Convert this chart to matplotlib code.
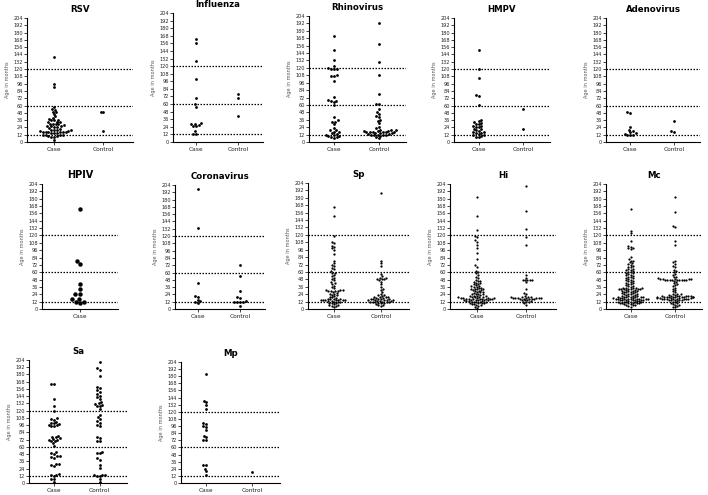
import matplotlib
matplotlib.use('Agg')
import matplotlib.pyplot as plt
import pandas as pd
import seaborn as sns

# ages in months
rsv_case = [140, 96, 91, 58, 55, 53, 50, 49, 46, 42, 40, 38, 37, 36, 36, 33, 33, 33, 30, 30, 29, 29, 28,
            26, 26, 26, 25, 25, 23, 22, 20, 20, 19, 19, 18, 18, 17, 17, 17, 16, 16, 16, 15, 15, 14,
            12, 12, 11, 11, 10, 10, 9, 9, 4]
rsv_control = [50, 50, 18]

flu_case = [163, 157, 128, 99, 70, 60, 56, 30, 29, 28, 27, 25, 25, 17, 13, 13]
flu_control = [76, 70, 41]

rhino_case = [172, 149, 133, 123, 120, 119, 119, 118, 108, 107, 107, 98, 73, 68, 67, 66, 65, 60, 40, 35,
              33, 32, 29, 22, 20, 19, 17, 16, 15, 13, 12, 11, 10, 9, 8, 8, 7]
rhino_control = [193, 159, 130, 108, 77, 62, 61, 54, 49, 46, 42, 40, 36, 34, 30, 24, 22, 20, 19, 19, 18,
                 18, 18, 17, 17, 17, 16, 16, 16, 15, 15, 14, 13, 13, 12, 12, 12, 11, 11, 10, 8, 6]

hmpv_case = [152, 120, 106, 78, 75, 61, 36, 34, 33, 31, 30, 29, 27, 26, 25, 24, 22, 21, 19, 18, 17, 16,
             15, 14, 13, 12, 11, 10, 9, 8]
hmpv_control = [55, 21]

adeno_case = [49, 47, 25, 20, 18, 16, 14, 13, 12, 11, 11]
adeno_control = [34, 18, 16]

hpiv_case = [164, 79, 73, 41, 33, 24, 24, 16, 16, 12, 11, 9]

corona_case = [197, 133, 43, 22, 20, 15, 13, 12, 10]
corona_control = [72, 54, 29, 20, 18, 13, 12, 12, 12, 11, 5]

sp_case = [165, 151, 118, 109, 107, 102, 101, 98, 96, 89, 78, 74, 72, 69, 66, 64, 61, 59, 58, 55, 53,
           51, 48, 47, 44, 42, 41, 38, 36, 34, 31, 30, 30, 29, 29, 29, 29, 28, 26, 25, 24, 23, 22, 21,
           20, 19, 18, 17, 16, 16, 16, 15, 15, 15, 15, 14, 14, 14, 13, 13, 12, 12, 11, 10, 10, 9, 8,
           7, 6, 5, 5, 4]
sp_control = [188, 78, 74, 70, 56, 53, 51, 50, 49, 49, 48, 47, 44, 40, 36, 32, 30, 27, 24, 23, 22, 21,
              20, 20, 19, 19, 18, 18, 17, 17, 16, 16, 16, 15, 15, 15, 14, 14, 13, 13, 13, 12, 12, 12,
              12, 11, 11, 10, 10, 9, 8, 7, 6, 5]

hi_case = [183, 151, 129, 119, 118, 112, 110, 104, 100, 91, 81, 71, 69, 62, 61, 58, 55, 52, 50, 48, 46,
           45, 44, 43, 42, 41, 40, 39, 38, 37, 36, 36, 35, 34, 33, 33, 33, 32, 31, 31, 30, 29, 28, 28,
           27, 26, 25, 25, 24, 24, 23, 22, 22, 21, 21, 20, 20, 19, 19, 19, 18, 18, 18, 18, 18, 17, 17,
           17, 17, 16, 16, 16, 16, 15, 15, 15, 14, 14, 14, 13, 13, 13, 12, 12, 12, 11, 11, 10, 10, 9,
           9, 8, 8, 7, 6, 5, 4, 2]
hi_control = [200, 160, 130, 118, 104, 55, 51, 48, 48, 48, 48, 47, 44, 33, 26, 24, 21, 20, 20, 19, 19,
              18, 18, 18, 18, 18, 18, 18, 17, 17, 17, 16, 16, 15, 15, 14, 13, 12, 11, 11, 9, 7]

mc_case = [164, 128, 124, 111, 103, 102, 100, 99, 98, 85, 81, 79, 78, 76, 75, 73, 72, 70, 69, 68, 66,
           65, 64, 63, 62, 61, 60, 59, 58, 57, 56, 55, 54, 53, 52, 51, 50, 49, 48, 47, 46, 45, 44, 43,
           42, 41, 40, 39, 38, 37, 36, 35, 35, 34, 34, 34, 33, 33, 33, 33, 32, 32, 32, 31, 31, 30, 30,
           29, 29, 28, 28, 27, 27, 26, 26, 25, 25, 24, 24, 23, 23, 22, 22, 21, 21, 20, 20, 20, 19, 19,
           19, 19, 18, 18, 18, 18, 17, 17, 17, 17, 17, 16, 16, 16, 16, 15, 15, 15, 15, 14, 14, 14, 13,
           13, 13, 12, 12, 12, 11, 11, 11, 10, 10, 10, 9, 9, 9, 8, 8, 7, 7, 6, 5, 4]
mc_control = [182, 158, 136, 134, 111, 104, 79, 76, 74, 70, 68, 64, 62, 60, 57, 55, 53, 52, 50, 49, 49,
              49, 49, 49, 48, 48, 48, 48, 48, 48, 48, 48, 47, 46, 44, 42, 40, 39, 37, 35, 33, 31, 29,
              27, 25, 24, 24, 23, 23, 22, 22, 22, 21, 21, 21, 21, 20, 20, 20, 20, 20, 19, 19, 19, 19,
              19, 18, 18, 18, 18, 18, 17, 17, 17, 17, 16, 16, 16, 16, 15, 15, 15, 14, 14, 13, 12, 11,
              10, 9, 8, 7, 6, 5, 4, 3]

sa_case = [165, 164, 139, 128, 120, 107, 106, 105, 102, 100, 99, 98, 97, 96, 95, 94, 78, 77, 76, 74, 73,
           72, 71, 70, 69, 66, 62, 51, 50, 48, 45, 44, 43, 42, 32, 31, 30, 28, 15, 14, 13, 11, 7, 6, 1]
sa_control = [200, 190, 188, 177, 160, 157, 154, 151, 148, 145, 142, 139, 135, 132, 131, 130, 128, 127,
              122, 113, 110, 106, 103, 100, 97, 94, 76, 74, 70, 69, 51, 50, 49, 41, 38, 30, 25, 14, 13,
              13, 12, 12, 6, 1]

mp_case = [184, 139, 136, 131, 124, 101, 100, 96, 95, 89, 79, 77, 73, 72, 31, 30, 24, 20, 14]
mp_control = [18]

ref_lines = [12, 60, 120]
yticks = list(range(0, 205, 12))

W, H = 708, 495
fig = plt.figure(figsize=(W / 100, H / 100), dpi=100)
fig.patch.set_facecolor('white')


def panel(box, title, case, control=None, msize=2.0, tsize=6.2):
    l, t, r, b = box
    ax = fig.add_axes([l / W, 1 - b / H, (r - l) / W, (b - t) / H])
    order = ['Case'] if control is None else ['Case', 'Control']
    ctrl = control or []
    df = pd.DataFrame({'grp': ['Case'] * len(case) + ['Control'] * len(ctrl),
                       'age': case + ctrl})
    sns.swarmplot(data=df, x='grp', y='age', order=order, color='black', size=msize,
                  ax=ax, clip_on=False, linewidth=0)
    if control is None:
        ax.set_xlim(-0.5, 0.5)
    else:
        ax.set_xlim(-0.55, 1.6)
    for v in ref_lines:
        ax.axhline(v, color='black', ls=(0, (1.2, 1.2)), lw=0.9, zorder=0)
    ax.set_ylim(0, 204)
    ax.set_yticks(yticks)
    ax.set_xlabel('')
    ax.set_ylabel('Age in months', fontsize=3.6, color='#555555', labelpad=2)
    ax.set_title(title, fontsize=tsize, fontweight='bold', pad=4)
    for s in ['top', 'right']:
        ax.spines[s].set_visible(False)
    for s in ['left', 'bottom']:
        ax.spines[s].set_linewidth(0.8)
    ax.tick_params(axis='y', labelsize=3.6, length=2, width=0.6, pad=1, colors='#222222')
    ax.tick_params(axis='x', labelsize=4.2, length=2, width=0.6, pad=1.5, colors='#222222')
    return ax


# row 1
panel((27, 18, 133, 142), 'RSV', rsv_case, rsv_control)
panel((173, 13, 263, 142), 'Influenza', flu_case, flu_control)
panel((309, 16, 406, 142), 'Rhinovirus', rhino_case, rhino_control)
panel((454, 18, 550, 142), 'HMPV', hmpv_case, hmpv_control)
panel((606, 18, 700, 142), 'Adenovirus', adeno_case, adeno_control)

# row 2
panel((42, 184, 118, 309), 'HPIV', hpiv_case, msize=3.2, tsize=7)
panel((175, 185, 265, 309), 'Coronavirus', corona_case, corona_control)
panel((308, 183, 409, 309), 'Sp', sp_case, sp_control, msize=1.65)
panel((450, 184, 556, 309), 'Hi', hi_case, hi_control, msize=1.6)
panel((606, 184, 702, 309), 'Mc', mc_case, mc_control, msize=1.6)

# row 3
panel((29, 360, 127, 483), 'Sa', sa_case, sa_control)
panel((181, 362, 280, 483), 'Mp', mp_case, mp_control)

fig.savefig('out.png', dpi=100, facecolor='white')
